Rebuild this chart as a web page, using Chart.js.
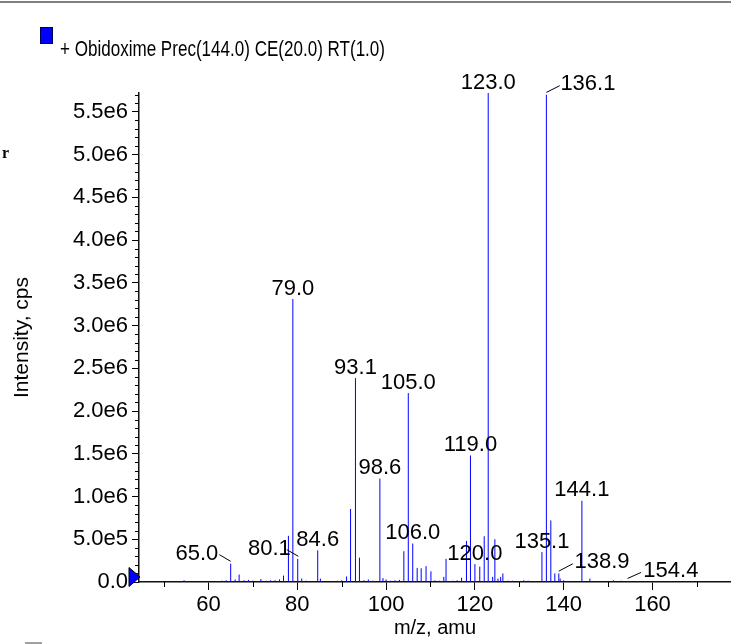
<!DOCTYPE html>
<html><head><meta charset="utf-8">
<script src="https://cdn.jsdelivr.net/npm/chart.js@4/dist/chart.umd.min.js"></script>
<style>html,body{margin:0;padding:0;background:#fff;}#wrap{width:731px;height:644px;position:relative;}</style>
</head><body><div id="wrap"><canvas id="c" width="731" height="644"></canvas></div>
<script>
const legendLabel = "+ Obidoxime Prec(144.0) CE(20.0) RT(1.0)";
const xAxisTitle = "m/z, amu";
const yAxisTitle = "Intensity, cps";

// m/z of each peak and its intensity (cps)
const peakMz = [54.5, 61.8, 63.0, 64.0, 65.0, 66.0, 66.9, 68.0, 69.0, 70.0, 71.8, 73.0, 74.0, 75.0, 76.0, 76.9,
  78.0, 79.0, 80.1, 81.0, 82.0, 84.6, 85.2, 87.0, 89.0, 90.0, 91.1, 92.0, 93.1, 94.0, 95.0, 96.0, 97.0,
  98.6, 99.3, 100.0, 101.0, 102.0, 103.0, 104.0, 105.0, 106.0, 107.0, 107.9, 109.0, 110.1, 111.0, 112.0,
  113.0, 113.5, 115.0, 116.0, 117.0, 118.1, 119.0, 120.0, 121.1, 122.1, 123.0, 124.0, 124.5, 125.2, 125.8,
  126.3, 127.5, 128.5, 130.0, 131.0, 132.0, 133.5, 135.1, 136.1, 137.1, 138.0, 138.9, 139.2, 140.0, 141.0,
  144.1, 145.9, 151.2, 153.0, 154.4, 165.7];
const peakIntensity = [2e4, 1e4, 1.5e4, 2e4, 2.15e5, 3e4, 8.7e4, 2e4, 2.5e4, 1.5e4, 3.5e4, 1.5e4, 2e4, 2e4, 3e4, 7.5e4,
  5.4e5, 3.31e6, 2.7e5, 4e4, 1.5e4, 3.7e5, 4e4, 1e4, 1.5e4, 2e4, 6.5e4, 8.55e5, 2.385e6, 2.85e5, 2e4, 3e4, 1.5e4,
  1.21e6, 4.5e4, 3e4, 1.5e4, 2e4, 2.5e4, 3.6e5, 2.21e6, 4.5e5, 1.65e5, 1.6e5, 1.85e5, 1.25e5, 2e4, 1.5e4,
  6e4, 2.7e5, 1.5e4, 2e4, 5e4, 4.8e5, 1.48e6, 2.1e5, 1.8e5, 5.35e5, 5.72e6, 6e4, 5.0e5, 4e4, 6e4,
  1.0e5, 1.5e4, 1.5e4, 1e4, 2e4, 1.5e4, 1e4, 3.5e5, 5.70e6, 7.2e5, 1.0e5, 1.0e5, 4e4, 2e4, 1e4,
  9.5e5, 4e4, 2e4, 1.5e4, 1e4, 5e3];
const labeledMz = [65.0, 79.0, 80.1, 84.6, 93.1, 98.6, 105.0, 106.0, 119.0, 120.0, 123.0, 135.1, 136.1, 138.9, 144.1, 154.4];

const xMin = 44.35, xMax = 177.68;
const yMin = 0, yMax = 5.72e6;
const xTickValues = [60, 80, 100, 120, 140, 160];
const xTickLabels = ["60", "80", "100", "120", "140", "160"];
const xMinorTicks = [50, 70, 90, 110, 130, 150, 170];
const yTickValues = [0, 5e5, 1e6, 1.5e6, 2e6, 2.5e6, 3e6, 3.5e6, 4e6, 4.5e6, 5e6, 5.5e6];
const yTickLabels = ["0.0", "5.0e5", "1.0e6", "1.5e6", "2.0e6", "2.5e6", "3.0e6", "3.5e6", "4.0e6", "4.5e6", "5.0e6", "5.5e6"];
const yMinorStep = 1e5;

// label placement (pixel offsets relative to peak top) for labels with leader lines
const leaderLabels = {
  "65.0":  {dx: -12.4, dy: -3.3, align: "right", l: [-11.4, -9, 0, -2.3]},
  "80.1":  {dx: -7,    dy: -4.3, align: "right", l: [-11, -9.3, 0.6, -2.6]},
  "136.1": {dx: 14,    dy: -5,   align: "left",  l: [0, -2.3, 13.3, -9]},
  "138.9": {dx: 15.7,  dy: -5,   align: "left",  l: [0, -2.3, 14, -9.7]},
  "154.4": {dx: 15.7,  dy: -3.7, align: "left",  l: [0, -2.7, 13.4, -8.7]}
};

const FONT = '"Liberation Sans", Arial, Helvetica, sans-serif';

const segs = [];
peakMz.forEach((m, i) => { segs.push({x: m, y: 0}, {x: m, y: peakIntensity[i]}, {x: m, y: null}); });

const decor = {
  id: 'decor',
  afterDraw(chart) {
    const {ctx, scales: {x, y}} = chart;
    const base = y.getPixelForValue(0);
    const left = x.left;
    ctx.save();
    // minor ticks
    ctx.strokeStyle = '#000'; ctx.lineWidth = 1;
    xMinorTicks.forEach(v => {
      const px = Math.round(x.getPixelForValue(v)) + 0.5;
      ctx.beginPath(); ctx.moveTo(px, base); ctx.lineTo(px, base + 5); ctx.stroke();
    });
    for (let k = 1; k * yMinorStep <= yMax + 1; k++) {
      if (k % 5 === 0) continue;
      const py = Math.round(y.getPixelForValue(k * yMinorStep)) + 0.5;
      ctx.beginPath(); ctx.moveTo(left - 4, py); ctx.lineTo(left, py); ctx.stroke();
    }
    // peak labels
    ctx.fillStyle = '#000';
    ctx.font = '22px ' + FONT;
    ctx.textBaseline = 'alphabetic';
    labeledMz.forEach(m => {
      const i = peakMz.indexOf(m);
      const px = x.getPixelForValue(m);
      const py = y.getPixelForValue(peakIntensity[i]);
      const txt = m.toFixed(1);
      const L = leaderLabels[txt];
      if (L) {
        ctx.textAlign = L.align;
        ctx.fillText(txt, px + L.dx, py + L.dy);
        ctx.beginPath(); ctx.lineWidth = 1; ctx.strokeStyle = '#000';
        ctx.moveTo(px + L.l[0], py + L.l[1]); ctx.lineTo(px + L.l[2], py + L.l[3]); ctx.stroke();
      } else {
        ctx.textAlign = 'center';
        ctx.fillText(txt, px, py - 4.5);
      }
    });
    // zero marker triangle
    ctx.beginPath();
    ctx.moveTo(left - 10, base - 14.5); ctx.lineTo(left + 1, base - 5); ctx.lineTo(left - 10, base + 4.5); ctx.closePath();
    ctx.fillStyle = '#0000ff'; ctx.fill(); ctx.strokeStyle = '#000'; ctx.lineWidth = 1; ctx.stroke();
    // legend
    ctx.fillStyle = '#0000ff'; ctx.fillRect(40, 27, 13, 17);
    ctx.strokeStyle = '#000055'; ctx.lineWidth = 1; ctx.strokeRect(40.5, 27.5, 12, 16);
    ctx.fillStyle = '#000'; ctx.textAlign = 'left';
    ctx.font = '22px ' + FONT;
    const w = ctx.measureText(legendLabel).width;
    ctx.save(); ctx.translate(60, 56); ctx.scale(325 / w, 1); ctx.fillText(legendLabel, 0, 0); ctx.restore();
    // frame remnants
    ctx.fillStyle = '#808080'; ctx.fillRect(0, 1, 731, 2);
    ctx.fillStyle = '#a0a0a0'; ctx.fillRect(25, 642, 17, 2);
    ctx.fillStyle = '#000'; ctx.font = 'bold 16px "Liberation Serif", serif'; ctx.fillText('r', 2, 158);
    ctx.restore();
  }
};

new Chart(document.getElementById('c').getContext('2d'), {
  type: 'line',
  data: {datasets: [{label: legendLabel, data: segs, borderColor: '#0000ff', borderWidth: 1, pointRadius: 0, spanGaps: false, tension: 0, fill: false}]},
  options: {
    animation: false, responsive: false, devicePixelRatio: 1,
    layout: {padding: {left: 0, right: 0, top: 93, bottom: 0}},
    plugins: {legend: {display: false}, tooltip: {enabled: false}},
    scales: {
      x: {
        type: 'linear', min: xMin, max: xMax,
        afterBuildTicks: s => { s.ticks = xTickValues.map(v => ({value: v})); },
        afterFit: s => { s.height = 62; },
        ticks: {autoSkip: false, maxRotation: 0, padding: 2, color: '#000', font: {family: FONT, size: 22},
          callback: (v, i) => xTickLabels[i]},
        grid: {drawOnChartArea: false, tickLength: 8, tickColor: '#000', color: '#000'},
        border: {display: true, color: '#111', width: 1.5},
        title: {display: true, text: xAxisTitle, color: '#000', font: {family: FONT, size: 20}, padding: {top: 0, bottom: 4}}
      },
      y: {
        type: 'linear', min: yMin, max: yMax,
        afterBuildTicks: s => { s.ticks = yTickValues.map(v => ({value: v})); },
        afterFit: s => { s.width = 139; },
        ticks: {autoSkip: false, padding: 4, color: '#000', font: {family: FONT, size: 22},
          callback: (v, i) => yTickLabels[i]},
        grid: {drawOnChartArea: false, tickLength: 7, tickColor: '#000', color: '#000'},
        border: {display: true, color: '#111', width: 1.5},
        title: {display: true, text: yAxisTitle, color: '#000', font: {family: FONT, size: 21}, padding: {top: 10, bottom: 0}}
      }
    }
  },
  plugins: [decor]
});
</script>
</body></html>
